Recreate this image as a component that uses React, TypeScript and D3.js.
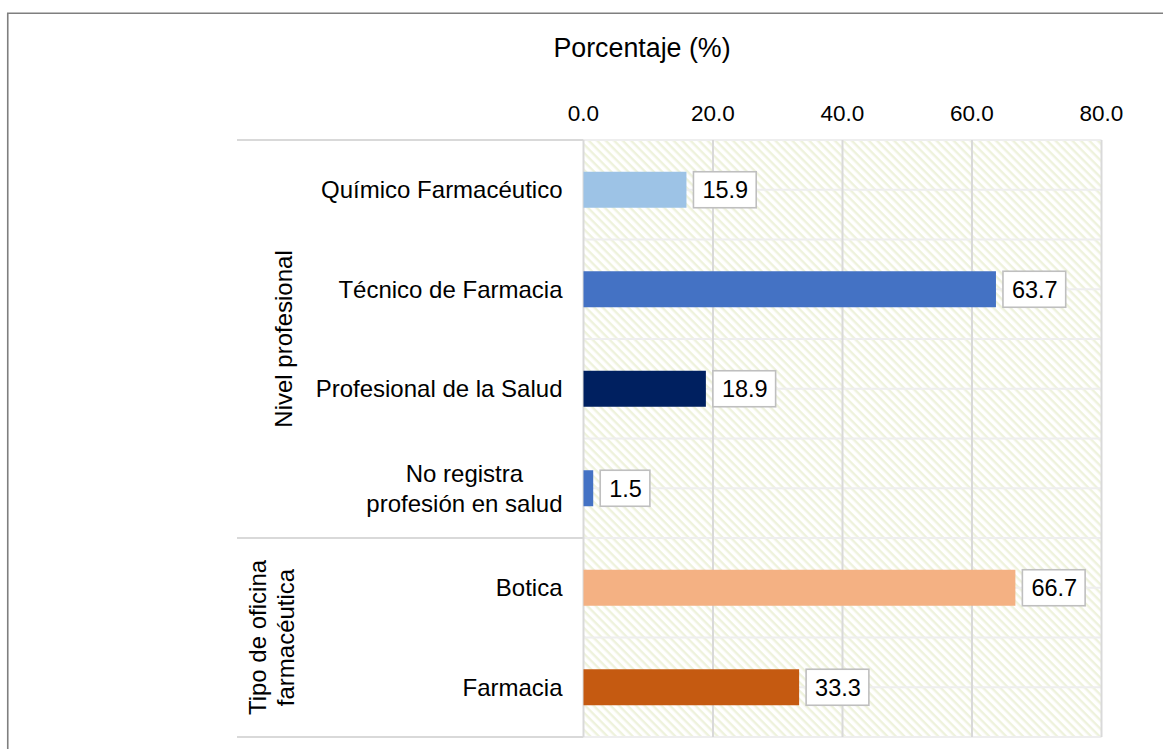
import React, { useEffect, useRef } from "react";
import * as d3 from "d3";

const categories = [
  ["Químico Farmacéutico"],
  ["Técnico de Farmacia"],
  ["Profesional de la Salud"],
  ["No registra", "profesión en salud"],
  ["Botica"],
  ["Farmacia"],
];
const values = [15.9, 63.7, 18.9, 1.5, 66.7, 33.3];
const colors = ["#9dc3e6", "#4472c4", "#002060", "#4472c4", "#f4b183", "#c55a11"];
const groups = [
  { lines: ["Nivel profesional"], start: 0, end: 4 },
  { lines: ["Tipo de oficina", "farmacéutica"], start: 4, end: 6 },
];
const ticks = [0, 20, 40, 60, 80];
const axisTitle = "Porcentaje (%)";

const W = 1163;
const H = 749;

export default function App() {
  const ref = useRef<SVGSVGElement>(null);

  useEffect(() => {
    const svg = d3.select(ref.current);
    svg.selectAll("*").remove();
    const font = "'Liberation Sans', Arial, sans-serif";

    const left = 583.5, right = 1101.5, top = 140, bottom = 737;
    const x = d3.scaleLinear().domain([0, 80]).range([left, right]);
    const y = d3.scaleBand<number>().domain(d3.range(categories.length)).range([top, bottom]).padding(0);
    const step = y.step();
    const barH = 36;

    const defs = svg.append("defs");
    const pat = defs.append("pattern").attr("id", "hatch").attr("patternUnits", "userSpaceOnUse")
      .attr("width", 6).attr("height", 6).attr("patternTransform", "rotate(45)");
    pat.append("rect").attr("width", 6).attr("height", 6).attr("fill", "#ffffff");
    pat.append("rect").attr("x", 0).attr("y", 0).attr("width", 6).attr("height", 2.4).attr("fill", "#eef2dc");

    // frame
    svg.append("path").attr("d", `M7.75,${H + 5} V13.25 H${W + 5}`).attr("fill", "none")
      .attr("stroke", "#7f7f7f").attr("stroke-width", 1.6);

    // plot background
    svg.append("rect").attr("x", left).attr("y", top).attr("width", right - left).attr("height", bottom - top)
      .attr("fill", "url(#hatch)");

    // horizontal light gridlines at band boundaries and centers
    const hLines: number[] = [];
    for (let i = 0; i <= categories.length; i++) hLines.push(top + i * step);
    for (let i = 0; i < categories.length; i++) hLines.push(y(i)! + step / 2);
    svg.append("g").selectAll("line").data(hLines).join("line")
      .attr("x1", left).attr("x2", right).attr("y1", (d) => d).attr("y2", (d) => d)
      .attr("stroke", "#eeeeee").attr("stroke-width", 2);

    // vertical gridlines
    svg.append("g").selectAll("line").data(ticks.slice(1)).join("line")
      .attr("x1", (d) => x(d)).attr("x2", (d) => x(d)).attr("y1", top).attr("y2", bottom)
      .attr("stroke", "#d9d9d9").attr("stroke-width", 2);

    // group separators on the left
    const sepY = [top, ...groups.map((g) => top + g.end * step)];
    svg.append("g").selectAll("line").data(sepY).join("line")
      .attr("x1", 237).attr("x2", left).attr("y1", (d) => d).attr("y2", (d) => d)
      .attr("stroke", "#d9d9d9").attr("stroke-width", 2);
    svg.append("line").attr("x1", left).attr("x2", left).attr("y1", top).attr("y2", bottom)
      .attr("stroke", "#d9d9d9").attr("stroke-width", 2);

    // ticks
    svg.append("g").selectAll("text").data(ticks).join("text")
      .attr("x", (d) => x(d)).attr("y", 121).attr("text-anchor", "middle")
      .attr("font-family", font).attr("font-size", 22.5).attr("fill", "#000")
      .text((d) => d.toFixed(1));

    svg.append("text").attr("x", 642).attr("y", 57).attr("text-anchor", "middle")
      .attr("font-family", font).attr("font-size", 26.8).attr("fill", "#000").text(axisTitle);

    // bars
    svg.append("g").selectAll("rect").data(values).join("rect")
      .attr("x", x(0)).attr("y", (_, i) => y(i)! + step / 2 - barH / 2)
      .attr("width", (d) => x(d) - x(0)).attr("height", barH)
      .attr("fill", (_, i) => colors[i]);

    // data labels
    values.forEach((v, i) => {
      const cy = y(i)! + step / 2;
      const g = svg.append("g");
      const rect = g.append("rect");
      const t = g.append("text").attr("x", x(v) + 7 + 9).attr("y", cy + 8.5)
        .attr("font-family", font).attr("font-size", 23.5).attr("fill", "#000").text(v.toFixed(1));
      const w = (t.node() as SVGTextElement).getComputedTextLength();
      rect.attr("x", x(v) + 7).attr("y", cy - barH / 2).attr("width", w + 17).attr("height", barH)
        .attr("fill", "#fff").attr("stroke", "#bfbfbf").attr("stroke-width", 1.6);
    });

    // category labels
    categories.forEach((lines, i) => {
      const cy = y(i)! + step / 2;
      const lh = 30;
      const g = svg.append("g");
      const texts = lines.map((ln, j) =>
        g.append("text").attr("y", cy + 8.5 + (j - (lines.length - 1) / 2) * lh)
          .attr("font-family", font).attr("font-size", 24).attr("fill", "#000").text(ln)
      );
      const widths = texts.map((t) => (t.node() as SVGTextElement).getComputedTextLength());
      const maxW = Math.max(...widths);
      const cx = 562.5 - maxW / 2;
      texts.forEach((t) => t.attr("x", cx).attr("text-anchor", "middle"));
    });

    // group labels (rotated)
    groups.forEach((gr, gi) => {
      const cy = top + ((gr.start + gr.end) / 2) * step;
      const baseX = gi === 0 ? 292 : 266;
      const lh = 28;
      gr.lines.forEach((ln, j) => {
        const bx = baseX + j * lh;
        svg.append("text").attr("transform", `translate(${bx},${cy}) rotate(-90)`)
          .attr("text-anchor", "middle").attr("font-family", font).attr("font-size", 24)
          .attr("fill", "#000").text(ln);
      });
    });
  }, []);

  return (
    <svg ref={ref} width={W} height={H} style={{ position: "absolute", left: 0, top: 0, background: "#fff" }} />
  );
}
